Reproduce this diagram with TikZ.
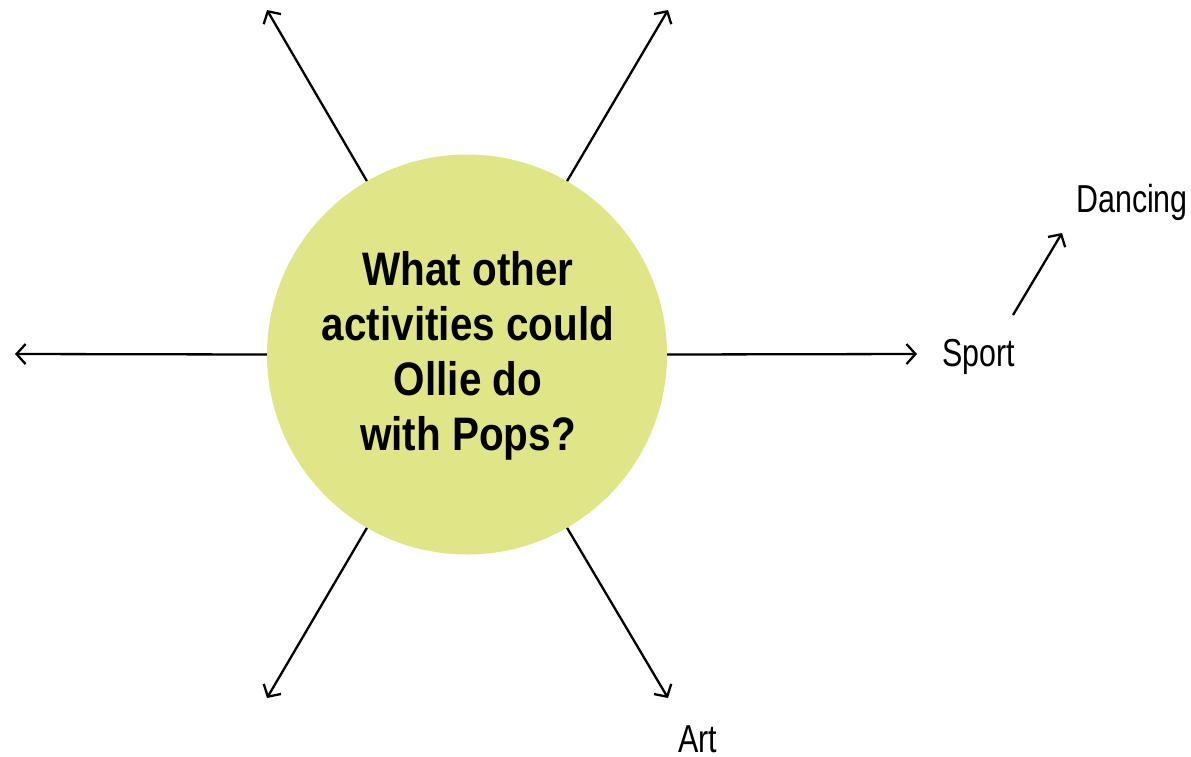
\documentclass[tikz,border=0pt]{standalone}
\usepackage{fontspec}
\setmainfont{Liberation Sans}
\newfontfamily\condbold[FakeStretch=0.86]{Liberation Sans Bold}
\newfontfamily\condlight[FakeStretch=0.78]{Liberation Sans}
\usetikzlibrary{arrows.meta}
\definecolor{bubble}{RGB}{224,229,135}
\tikzset{
  ray/.style={line width=2.3pt, -{Straight Barb[length=9pt,width=20pt,line width=2.3pt]}},
  lbl/.style={font=\condlight\fontsize{39}{44}\selectfont, inner sep=0pt, anchor=base west}
}
\begin{document}
\begin{tikzpicture}[x=1pt,y=-1pt]
\useasboundingbox (0,0) rectangle (1191,756);
\node[circle, fill=bubble, minimum size=400pt, inner sep=0pt] (q) at (467,354.5) {};
\node[align=center, font=\condbold\fontsize{47}{55}\selectfont, inner sep=0pt] (t) at (468,356) {What other\\activities could\\Ollie do\\with Pops?};
\coordinate (ul) at (267,10);
\coordinate (ur) at (668,10);
\coordinate (l) at (15,354);
\coordinate (r) at (917,354);
\coordinate (dl) at (267,698);
\coordinate (dr) at (668,698);
\draw[ray] (q.120) -- (ul);
\draw[ray] (q.60) -- (ur);
\draw[ray] (q.180) -- (l);
\draw[ray] (q.0) -- (r);
\draw[ray] (q.240) -- (dl);
\draw[ray] (q.300) -- (dr);
\node[lbl] (sport) at (942,366) {Sport};
\node[lbl] (dancing) at (1076,212) {Dancing};
\node[lbl] (art) at (678,752) {Art};
\coordinate (s0) at (1013,315);
\coordinate (s1) at (1062,233);
\draw[ray] (s0) -- (s1);
\end{tikzpicture}
\end{document}
